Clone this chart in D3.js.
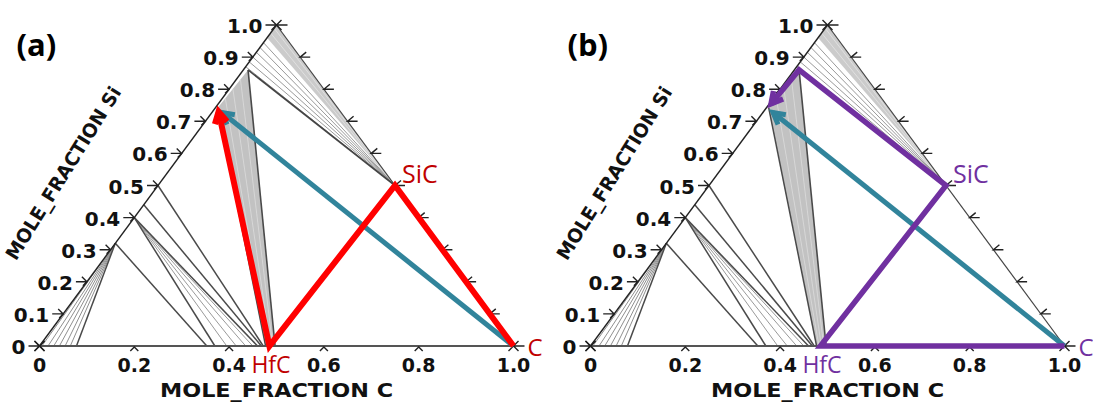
<!DOCTYPE html>
<html><head><meta charset="utf-8">
<script src="https://cdn.jsdelivr.net/npm/d3@7"></script>
<style>body{margin:0;background:#fff}</style>
</head><body>
<svg id="chart" width="1093" height="403"></svg>
<script>
// ---------- data ----------
const panelLabels = ["(a)", "(b)"];
const siTicks = [0, 0.1, 0.2, 0.3, 0.4, 0.5, 0.6, 0.7, 0.8, 0.9, 1.0];
const siTickLabels = ["0", "0.1", "0.2", "0.3", "0.4", "0.5", "0.6", "0.7", "0.8", "0.9", "1.0"];
const cTicks = [0, 0.2, 0.4, 0.6, 0.8, 1.0];
const cTickLabels = ["0", "0.2", "0.4", "0.6", "0.8", "1.0"];
const rightTicks = [0.1, 0.2, 0.3, 0.4, 0.5, 0.6, 0.7, 0.8, 0.9];
const xTitle = "MOLE_FRACTION C";
const yTitle = "MOLE_FRACTION Si";

// compositions as [x(C), x(Si)]
const ptC = [1, 0];
const ptSiC = [0.5, 0.5];
const ptHfC = [0.485, 0];
const ptLiq = [0.01, 0.86];
const ptWedge = [0.005, 0.742];
const tipRed = [0.005, 0.742];
const tipTeal = [0.011, 0.735];
const tipPurple = [0.003, 0.745];

// tie-line fans
const fanSi = [0.87, 0.885, 0.90, 0.915, 0.93, 0.945];
const fanLow = [0.005, 0.018, 0.03, 0.042, 0.054, 0.065];
const fanLowDark = [0.078];
const fan40Light = [0.395, 0.415, 0.435, 0.45];
const fan40Dark = [0.37, 0.46];
const darkTies = [
  [[0, 0.5], [0.472, 0]],
  [[0, 0.44], [0.468, 0]],
  [[0, 0.32], [0.353, 0]]
];
const wedgeBase = [0.477, 0.497];
const topBandSi = 0.96;

const pathA = [ptC, ptSiC, ptHfC, tipRed];
const pathB = [ptC, ptHfC, ptSiC, ptLiq, tipPurple];
const pathTeal = [ptC, tipTeal];
const mainColors = ["#ff0000", "#7030a0"];
const textColors = ["#c00000", "#7030a0"];
const tealColor = "#31849b";

// ---------- drawing ----------
const svg = d3.select("#chart");
const W = 474, YB = 346, YT = 25;
const panelX0 = [39.5, 590.5];
const tickFont = "'DejaVu Sans', sans-serif";

panelX0.forEach((x0, pi) => {
  const xs = d3.scaleLinear().domain([0, 1]).range([x0, x0 + W]);
  const ys = d3.scaleLinear().domain([0, 1]).range([YB, YT]);
  const P = ([c, s]) => [xs(c + s / 2), ys(s)];
  const line = d3.line();
  const g = svg.append("g");

  // top gray band
  g.append("path").attr("d", line([[0, topBandSi], [0, 1], ptSiC].map(P)) + "Z")
    .attr("fill", "#cbcbcb").attr("stroke", "none");
  fanSi.forEach(s => {
    g.append("path").attr("d", line([[0, s], ptSiC].map(P)))
      .attr("stroke", "#9a9a9a").attr("stroke-width", 1).attr("fill", "none");
  });
  [0.975, 0.99].forEach(s => {
    g.append("path").attr("d", line([[0, s], ptSiC].map(P)))
      .attr("stroke", "#e4e4e4").attr("stroke-width", 0.8).attr("fill", "none");
  });
  g.append("path").attr("d", line([ptLiq, ptSiC].map(P)))
    .attr("stroke", "#444").attr("stroke-width", 1.6).attr("fill", "none");

  // HfC wedge
  g.append("path").attr("d", line([ptWedge, ptLiq, [wedgeBase[1], 0], [wedgeBase[0], 0]].map(P)) + "Z")
    .attr("fill", "#c2c2c2").attr("stroke", "none");
  [0.25, 0.5, 0.75].forEach(t => {
    const a = [ptWedge[0] + t * (ptLiq[0] - ptWedge[0]), ptWedge[1] + t * (ptLiq[1] - ptWedge[1])];
    const b = [wedgeBase[0] + t * (wedgeBase[1] - wedgeBase[0]), 0];
    g.append("path").attr("d", line([a, b].map(P)))
      .attr("stroke", "#dcdcdc").attr("stroke-width", 0.8).attr("fill", "none");
  });
  g.append("path").attr("d", line([ptWedge, [wedgeBase[0], 0]].map(P)))
    .attr("stroke", "#4a4a4a").attr("stroke-width", 1.5).attr("fill", "none");
  g.append("path").attr("d", line([ptLiq, [wedgeBase[1], 0]].map(P)))
    .attr("stroke", "#4a4a4a").attr("stroke-width", 1.6).attr("fill", "none");

  // low fans
  fanLow.forEach(c => {
    g.append("path").attr("d", line([[0, 0.32], [c, 0]].map(P)))
      .attr("stroke", "#8f8f8f").attr("stroke-width", 1).attr("fill", "none");
  });
  fanLowDark.forEach(c => {
    g.append("path").attr("d", line([[0, 0.32], [c, 0]].map(P)))
      .attr("stroke", "#4a4a4a").attr("stroke-width", 1.5).attr("fill", "none");
  });
  fan40Light.forEach(c => {
    g.append("path").attr("d", line([[0, 0.4], [c, 0]].map(P)))
      .attr("stroke", "#9a9a9a").attr("stroke-width", 1).attr("fill", "none");
  });
  fan40Dark.forEach(c => {
    g.append("path").attr("d", line([[0, 0.4], [c, 0]].map(P)))
      .attr("stroke", "#4a4a4a").attr("stroke-width", 1.5).attr("fill", "none");
  });
  darkTies.forEach(t => {
    g.append("path").attr("d", line(t.map(P)))
      .attr("stroke", "#4a4a4a").attr("stroke-width", 1.5).attr("fill", "none");
  });

  // triangle edges
  g.append("path").attr("d", line([[0, 0], [0, 1]].map(P)))
    .attr("stroke", "#222").attr("stroke-width", 1.4).attr("fill", "none");
  g.append("path").attr("d", line([[0, 1], [1, 0]].map(P)))
    .attr("stroke", "#444").attr("stroke-width", 1.2).attr("fill", "none");
  g.append("path").attr("d", line([[0, 0], [1, 0]].map(P)))
    .attr("stroke", "#555").attr("stroke-width", 1.8).attr("fill", "none");

  const tk = { stroke: "#222", "stroke-width": 1.4, fill: "none" };
  const addPath = (d) => { const p = g.append("path").attr("d", d); Object.entries(tk).forEach(([k, v]) => p.attr(k, v)); };

  // left ticks + labels
  siTicks.forEach((s, i) => {
    const [px, py] = P([0, s]);
    if (s === 0 || s === 1) {
      addPath(`M${px - 11},${py}L${px + (s === 1 ? 11 : 0)},${py}M${px - 5},${py - 5}L${px + 5},${py + 5}M${px - 5},${py + 5}L${px + 5},${py - 5}`);
    } else {
      addPath(`M${px - 11},${py}L${px},${py}M${px - 5},${py - 5}L${px},${py}L${px - 4},${py + 4}`);
    }
    g.append("text").attr("x", px - 14).attr("y", py + 1)
      .attr("text-anchor", "end").attr("dominant-baseline", "central")
      .attr("font-family", tickFont).attr("font-weight", "bold").attr("font-size", 20)
      .attr("fill", "#111").text(siTickLabels[i]);
  });
  // right ticks
  rightTicks.forEach(s => {
    const [px, py] = P([1 - s, s]);
    addPath(`M${px + 6},${py - 5}L${px},${py}L${px + 10},${py}`);
  });
  // bottom ticks + labels
  cTicks.forEach((c, i) => {
    const [px, py] = P([c, 0]);
    if (c === 0 || c === 1) {
      addPath(`M${px - 5},${py - 5}L${px + 5},${py + 5}M${px - 5},${py + 5}L${px + 5},${py - 5}` + (c === 1 ? `M${px},${py}L${px + 11},${py}` : ""));
    } else {
      addPath(`M${px - 4},${py + 5}L${px},${py + 1}L${px + 4},${py + 5}`);
    }
    g.append("text").attr("x", px).attr("y", 365)
      .attr("text-anchor", "middle").attr("dominant-baseline", "central")
      .attr("font-family", tickFont).attr("font-weight", "bold").attr("font-size", 19)
      .attr("fill", "#111").text(cTickLabels[i]);
  });

  // axis titles
  g.append("text").attr("x", xs(0.5)).attr("y", 397)
    .attr("text-anchor", "middle")
    .attr("font-family", tickFont).attr("font-weight", "bold").attr("font-size", 20)
    .attr("textLength", 233).attr("lengthAdjust", "spacingAndGlyphs")
    .attr("fill", "#111").text(xTitle);
  const ycx = x0 + 23.5, ycy = 173;
  g.append("text").attr("transform", `translate(${ycx},${ycy}) rotate(-58)`)
    .attr("text-anchor", "middle").attr("dominant-baseline", "central")
    .attr("font-family", tickFont).attr("font-weight", "bold").attr("font-size", 19)
    .attr("textLength", 200).attr("lengthAdjust", "spacingAndGlyphs")
    .attr("fill", "#111").text(yTitle);

  // panel label
  g.append("text").attr("x", x0 - 23).attr("y", 56)
    .attr("font-family", "'Open Sans', sans-serif").attr("font-weight", "bold").attr("font-size", 31)
    .attr("fill", "#000").text(panelLabels[pi]);

  // arrows
  function arrow(pts, color, width) {
    const pp = pts.map(P);
    const n = pp.length;
    const [tx, ty] = pp[n - 1], [sx, sy] = pp[n - 2];
    const ang = Math.atan2(ty - sy, tx - sx);
    const back = 4;
    const tip = [tx - back * Math.cos(ang), ty - back * Math.sin(ang)];
    const body = pp.slice(0, n - 1).concat([tip]);
    g.append("path").attr("d", line(body)).attr("fill", "none")
      .attr("stroke", color).attr("stroke-width", width).attr("stroke-linejoin", "miter");
    const L = 13, a = 0.5;
    const w1 = [tip[0] - L * Math.cos(ang - a), tip[1] - L * Math.sin(ang - a)];
    const w2 = [tip[0] - L * Math.cos(ang + a), tip[1] - L * Math.sin(ang + a)];
    g.append("path").attr("d", line([w1, tip, w2])).attr("fill", "none")
      .attr("stroke", color).attr("stroke-width", width).attr("stroke-linejoin", "miter");
  }
  arrow(pathTeal, tealColor, 5);
  arrow(pi === 0 ? pathA : pathB, mainColors[pi], pi === 0 ? 6 : 5.5);

  // phase labels
  const tf = "'Open Sans', sans-serif";
  const [sx, sy] = P(ptSiC), [hx, hy] = P(ptHfC), [cx, cy] = P(ptC);
  g.append("text").attr("x", sx + 7).attr("y", sy - 3).attr("font-family", tf).attr("font-size", 25)
    .attr("fill", textColors[pi]).text("SiC");
  g.append("text").attr("x", hx - 18).attr("y", hy + 27).attr("font-family", tf).attr("font-size", 23)
    .attr("fill", textColors[pi]).text("HfC");
  g.append("text").attr("x", cx + 14).attr("y", cy + 10).attr("font-family", tf).attr("font-size", 24)
    .attr("fill", textColors[pi]).text("C");
});
</script>
</body></html>
